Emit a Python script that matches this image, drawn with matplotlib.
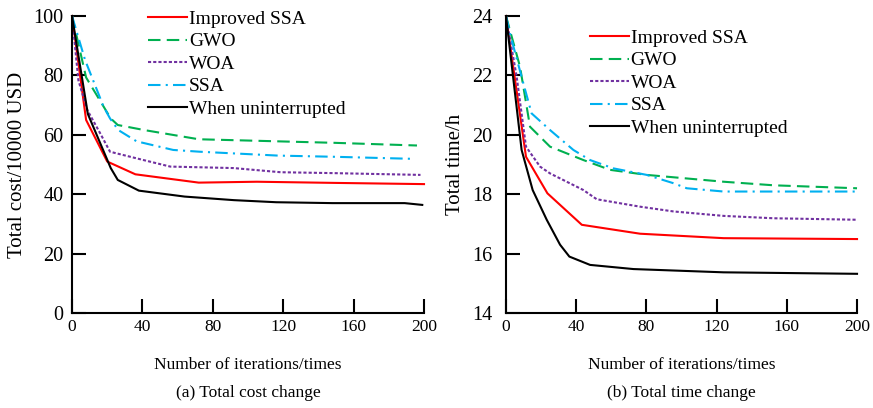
import matplotlib

matplotlib.use("Agg")
import matplotlib.pyplot as plt

plt.rcParams["font.family"] = ["Liberation Serif", "DejaVu Serif"]

SERIES = ["Improved SSA", "GWO", "WOA", "SSA", "When uninterrupted"]

# (a) total cost, 10000 USD
cost_improved_x = [0, 8, 20, 36, 72, 105, 150, 200]
cost_improved_y = [100, 65, 51, 46.7, 43.9, 44.2, 43.8, 43.4]
cost_gwo_x = [0, 8, 22, 26, 41, 72, 117, 149, 196]
cost_gwo_y = [100, 79.3, 65.5, 63.3, 61.6, 58.5, 57.8, 57.3, 56.4]
cost_woa_x = [0, 3.6, 8.7, 16, 21.6, 40.6, 55.8, 91.8, 118.5, 148.5, 198]
cost_woa_y = [100, 78.4, 68.3, 60.5, 54.3, 51.5, 49.3, 48.8, 47.4, 47.1, 46.5]
cost_ssa_x = [0, 7.4, 17.9, 21.6, 26.3, 36.7, 57.5, 72.7, 117, 149, 194]
cost_ssa_y = [100, 85.2, 69.5, 65.5, 61.6, 57.8, 54.9, 54.3, 53, 52.6, 51.9]
cost_unint_x = [0, 9, 22, 26, 38, 64, 92, 116, 148, 189, 199]
cost_unint_y = [100, 67, 48.8, 44.8, 41.2, 39.2, 38, 37.3, 37, 37, 36.4]

# (b) total time, h
time_improved_x = [0, 11.4, 23.6, 43.2, 76.4, 124, 200]
time_improved_y = [24, 19.26, 18.03, 16.97, 16.67, 16.52, 16.49]
time_gwo_x = [0, 8, 13.7, 25.1, 44.1, 59.3, 80.2, 124, 152.5, 200]
time_gwo_y = [24, 22.29, 20.27, 19.6, 19.15, 18.82, 18.65, 18.42, 18.3, 18.2]
time_woa_x = [0, 6.1, 11.4, 19.4, 25.1, 44.1, 51.7, 76.4, 95.4, 124, 152.5, 200]
time_woa_y = [24, 21.95, 19.6, 18.93, 18.7, 18.14, 17.83, 17.58, 17.42, 17.27, 17.19, 17.14]
time_ssa_x = [0, 2.3, 9.9, 14.6, 25.1, 38.4, 47.9, 61.2, 80.2, 95.4, 103, 124, 200]
time_ssa_y = [24, 23.4, 21.73, 20.72, 20.16, 19.49, 19.15, 18.87, 18.65, 18.37, 18.2, 18.09, 18.09]
time_unint_x = [0, 8.9, 15.2, 23.2, 30.8, 36.1, 47.9, 72.6, 124, 200]
time_unint_y = [24, 19.49, 18.14, 17.14, 16.3, 15.9, 15.62, 15.48, 15.37, 15.32]

x_ticks = [0, 40, 80, 120, 160, 200]
cost_ticks = [0, 20, 40, 60, 80, 100]
time_ticks = [14, 16, 18, 20, 22, 24]

STYLES = [
    dict(color="#FF0000", linestyle="-"),
    dict(color="#00B050", linestyle=(0, (6, 3))),
    dict(color="#7030A0", linestyle=(0, (1.5, 1))),
    dict(color="#00B0F0", linestyle=(0, (6, 2.5, 1, 2.5))),
    dict(color="#000000", linestyle="-"),
]


def draw_panel(axis, curves, ylim, yticks, ylabel, ypad, legend_anchor):
    for (xs, ys), name, style in zip(curves, SERIES, STYLES):
        axis.plot(xs, ys, label=name, linewidth=1.5, clip_on=False, **style)
    axis.set_xlim(0, 200)
    axis.set_ylim(*ylim)
    axis.set_xticks(x_ticks)
    axis.set_yticks(yticks)
    for side in ("top", "right"):
        axis.spines[side].set_visible(False)
    for side in ("left", "bottom"):
        axis.spines[side].set_linewidth(1.5)
    axis.tick_params(axis="both", direction="in", length=10, width=1.5)
    axis.tick_params(axis="y", labelsize=14.5, pad=ypad)
    axis.tick_params(axis="x", labelsize=12.5, pad=4)
    axis.set_ylabel(ylabel, fontsize=15, labelpad=5)
    axis.set_xlabel("Number of iterations/times", fontsize=12.5, labelpad=16)
    axis.legend(
        loc="upper left",
        bbox_to_anchor=legend_anchor,
        frameon=False,
        fontsize=14,
        handlelength=2.0,
        handletextpad=0.1,
        labelspacing=0.25,
        borderaxespad=0,
        borderpad=0,
    )


fig = plt.figure(figsize=(8.73, 4.08), dpi=100)
ax_cost = fig.add_axes([0.0825, 0.2328, 0.4032, 0.728])
ax_time = fig.add_axes([0.5796, 0.2328, 0.4021, 0.728])

draw_panel(
    ax_cost,
    [
        (cost_improved_x, cost_improved_y),
        (cost_gwo_x, cost_gwo_y),
        (cost_woa_x, cost_woa_y),
        (cost_ssa_x, cost_ssa_y),
        (cost_unint_x, cost_unint_y),
    ],
    (0, 100),
    cost_ticks,
    "Total cost/10000 USD",
    6,
    (0.216, 1.019),
)
draw_panel(
    ax_time,
    [
        (time_improved_x, time_improved_y),
        (time_gwo_x, time_gwo_y),
        (time_woa_x, time_woa_y),
        (time_ssa_x, time_ssa_y),
        (time_unint_x, time_unint_y),
    ],
    (14, 24),
    time_ticks,
    "Total time/h",
    10,
    (0.239, 0.955),
)

fig.text(0.2841, 0.036, "(a) Total cost change", ha="center", va="center", fontsize=12.5)
fig.text(0.7806, 0.036, "(b) Total time change", ha="center", va="center", fontsize=12.5)

fig.savefig("out.png", dpi=100)
